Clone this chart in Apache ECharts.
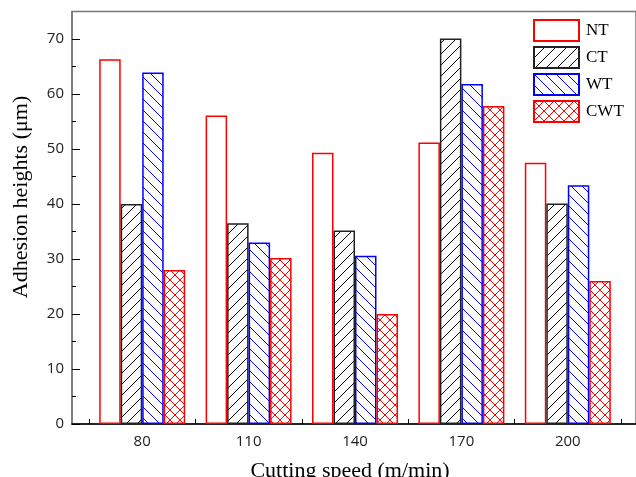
<!DOCTYPE html>
<html>
<head>
<meta charset="utf-8">
<script src="https://cdn.jsdelivr.net/npm/echarts@6/dist/echarts.min.js"></script>
<style>html,body{margin:0;padding:0;background:#fff;}#c{width:636px;height:477px;}</style>
</head>
<body>
<div id="c"></div>
<script>
var categories = ['80', '110', '140', '170', '200'];
var seriesNames = ['NT', 'CT', 'WT', 'CWT'];
var NT  = [66.3, 56.1, 49.3, 51.2, 47.5];
var CT  = [40.0, 36.5, 35.2, 70.1, 40.1];
var WT  = [63.9, 33.0, 30.6, 61.8, 43.4];
var CWT = [28.0, 30.2, 20.0, 57.8, 26.0];
var yMax = 75;
var yTickMax = 70;
var yInterval = 10;

function makePattern(color, dirs, size) {
  var c = document.createElement('canvas');
  c.width = size; c.height = size;
  var ctx = c.getContext('2d');
  ctx.fillStyle = '#ffffff';
  ctx.fillRect(0, 0, size, size);
  ctx.strokeStyle = color;
  ctx.lineWidth = 1;
  dirs.forEach(function (d) {
    for (var k = -1; k <= 1; k++) {
      ctx.beginPath();
      if (d === '/') { ctx.moveTo(k * size, size); ctx.lineTo(k * size + size, 0); }
      else { ctx.moveTo(k * size, 0); ctx.lineTo(k * size + size, size); }
      ctx.stroke();
    }
  });
  return { image: c, repeat: 'repeat' };
}

var chart = echarts.init(document.getElementById('c'), null, { renderer: 'canvas' });
var labelFont = { fontFamily: 'Open Sans', fontSize: 15, color: '#222' };
var serif = 'Liberation Serif';

function barSeries(name, data, fill, border) {
  return {
    name: name, type: 'bar', xAxisIndex: 0, yAxisIndex: 0,
    data: data, barWidth: 21.5, barGap: '0%',
    itemStyle: { color: fill, borderColor: border, borderWidth: 1.5 },
    emphasis: { disabled: true }
  };
}

var plotTop = 11.5, plotBottom = 53, plotH = 477 - plotTop - plotBottom;
var tickTop = plotTop + plotH * (yMax - yTickMax) / yMax;

var option = {
  animation: false,
  backgroundColor: '#ffffff',
  grid: [
    { left: 89, right: 15, top: plotTop, bottom: plotBottom },
    { left: 72, right: -3, top: plotTop, bottom: plotBottom, show: true, borderColor: '#777', borderWidth: 1.5, backgroundColor: 'transparent' },
    { left: 72, right: -3, top: tickTop, bottom: plotBottom }
  ],
  xAxis: [
    { type: 'category', gridIndex: 0, data: categories,
      axisLine: { show: false },
      axisTick: { show: true, inside: true, length: 5, lineStyle: { color: '#000', width: 1 } },
      axisLabel: Object.assign({ margin: 10 }, labelFont),
      splitLine: { show: false } },
    { type: 'value', gridIndex: 1, min: 0, max: 1,
      axisLine: { show: true, onZero: false, lineStyle: { color: '#000', width: 1.5 } },
      axisTick: { show: false }, axisLabel: { show: false }, splitLine: { show: false } },
    { type: 'value', gridIndex: 2, min: 0, max: 1, show: false }
  ],
  yAxis: [
    { type: 'value', gridIndex: 0, min: 0, max: yMax, show: false, splitLine: { show: false } },
    { type: 'value', gridIndex: 1, min: 0, max: yMax,
      axisLine: { show: true, onZero: false, lineStyle: { color: '#777', width: 1.5 } },
      axisTick: { show: false }, axisLabel: { show: false }, splitLine: { show: false } },
    { type: 'value', gridIndex: 2, min: 0, max: yTickMax, interval: yInterval, position: 'left',
      axisLine: { show: false, onZero: false },
      axisTick: { show: true, inside: true, length: 8, lineStyle: { color: '#000', width: 1 } },
      minorTick: { show: true, splitNumber: 2, length: 4, lineStyle: { color: '#000', width: 1 } },
      axisLabel: Object.assign({ margin: 8 }, labelFont),
      splitLine: { show: false } }
  ],
  legend: {
    orient: 'vertical', left: 528, top: 14,
    itemWidth: 45, itemHeight: 21, itemGap: 4, icon: 'rect',
    textStyle: { fontFamily: serif, fontSize: 17, color: '#000', padding: [0, 0, 0, 2] },
    data: seriesNames,
    selectedMode: false
  },
  series: [
    barSeries('NT', NT, '#ffffff', '#ff0000'),
    barSeries('CT', CT, makePattern('#000000', ['/'], 11), '#222222'),
    barSeries('WT', WT, makePattern('#0000ff', ['\\'], 11), '#0000ff'),
    barSeries('CWT', CWT, makePattern('#ff0000', ['/', '\\'], 10), '#ff0000')
  ],
  graphic: [
    { type: 'text', x: 21, y: 197, rotation: Math.PI / 2,
      style: { text: 'Adhesion heights (μm)', font: '22px "Liberation Serif"', fill: '#000', align: 'center', verticalAlign: 'middle' } },
    { type: 'text', x: 350, y: 471,
      style: { text: 'Cutting speed (m/min)', font: '22px "Liberation Serif"', fill: '#000', align: 'center', verticalAlign: 'middle' } }
  ]
};
chart.setOption(option);
</script>
</body>
</html>
